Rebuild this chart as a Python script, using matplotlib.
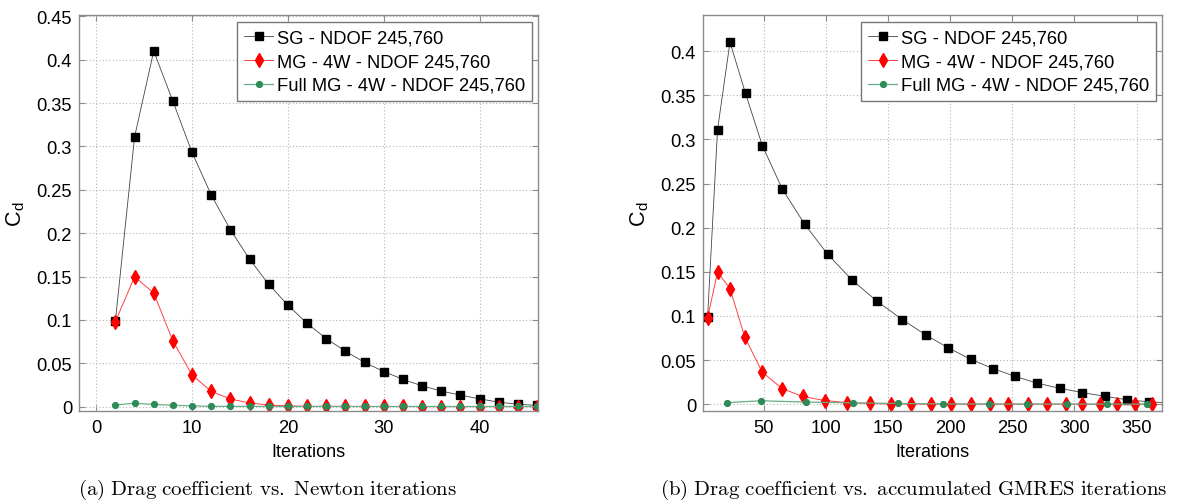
import matplotlib
matplotlib.use("Agg")
import matplotlib.pyplot as plt
import numpy as np

# ---------------- data ----------------
newton_sg = [2, 4, 6, 8, 10, 12, 14, 16, 18, 20, 22, 24, 26, 28, 30, 32, 34, 36, 38, 40, 42, 44, 46]
gmres_sg = [5, 13, 23, 35.5, 49, 65, 83, 101.5, 121, 141, 161.5, 180.5, 198.5, 216.5, 234.5,
            252.5, 270, 288.5, 306.5, 324.5, 342, 360, 378]
cd_sg = [0.099, 0.311, 0.410, 0.352, 0.293, 0.244, 0.204, 0.170, 0.141, 0.117, 0.096, 0.0785,
         0.064, 0.051, 0.0405, 0.0315, 0.024, 0.018, 0.0133, 0.009, 0.0052, 0.0028, 0.0015]

newton_mg = [2, 4, 6, 8, 10, 12, 14, 16, 18, 20, 22, 24, 26, 28, 30, 32, 34, 36, 38, 40,
             42, 44, 46, 48, 50]
gmres_mg = [5, 13, 23, 35, 49, 65, 81.5, 99.5, 117.5, 135.5, 152.5, 168.5, 184.5, 200.5, 216.5,
            232, 247, 262.5, 278, 293, 306.5, 321, 334.5, 348.5, 362.5]
cd_mg = [0.098, 0.1497, 0.131, 0.0757, 0.0364, 0.0177, 0.0089, 0.0042, 0.0019, 0.0009, 0.0004,
         0.0003, 0.0003, 0.0002, 0.0002, 0.0002, 0.0001, 0.0001, 0.0001, 0.0001, 0.0001, 0.0001,
         0.0001, 0.0001, 0.0001]

newton_full = [2, 4, 6, 8, 10, 12, 14, 16, 18, 20, 22, 24, 26, 28, 30, 32, 34, 36, 38, 40, 42, 44, 46]
gmres_full = [21, 48, 84, 122, 158, 194, 231, 262, 294, 326, 358.5]
cd_full = [0.0019, 0.0040, 0.0025, 0.0016, 0.0009, 0.0004, 0.0003, 0.0003, 0.0002, 0.0002, 0.0002,
           0.0002, 0.0002, 0.0002, 0.0002, 0.0002, 0.0002, 0.0002, 0.0002, 0.0002, 0.0002, 0.0002,
           0.0002]

labels = ["SG - NDOF 245,760", "MG - 4W - NDOF 245,760", "Full MG - 4W - NDOF 245,760"]
yticks_a = [0, 0.05, 0.1, 0.15, 0.2, 0.25, 0.3, 0.35, 0.4, 0.45]
yticklabels_a = ["0", "0.05", "0.1", "0.15", "0.2", "0.25", "0.3", "0.35", "0.4", "0.45"]
yticks_b = [0, 0.05, 0.1, 0.15, 0.2, 0.25, 0.3, 0.35, 0.4]
yticklabels_b = ["0", "0.05", "0.1", "0.15", "0.2", "0.25", "0.3", "0.35", "0.4"]
xticks_a = [0, 10, 20, 30, 40]
xticks_b = [50, 100, 150, 200, 250, 300, 350]
captions = [r"$\mathrm{(a)\ Drag\ coefficient\ vs.\ Newton\ iterations}$",
            r"$\mathrm{(b)\ Drag\ coefficient\ vs.\ accumulated\ GMRES\ iterations}$"]

# ---------------- style ----------------
plt.rcParams["font.family"] = ["Liberation Sans", "DejaVu Sans"]
plt.rcParams["mathtext.fontset"] = "cm"

W, H = 1192, 502
fig = plt.figure(figsize=(W / 100, H / 100), dpi=100)

def px_axes(x0, x1, y0, y1):
    return fig.add_axes([x0 / W, (H - y1) / H, (x1 - x0) / W, (y1 - y0) / H])

ax_a = px_axes(79, 538, 16, 412)
ax_b = px_axes(703, 1162, 16, 412)

SPINE = "#8c8c8c"
GRID = "#b5b5b5"

def style(ax, xlim, ylim, xticks, yticks, yticklabels):
    ax.set_xlim(*xlim)
    ax.set_ylim(*ylim)
    ax.set_xticks(xticks)
    ax.set_xticklabels([str(t) for t in xticks])
    ax.set_yticks(yticks)
    ax.set_yticklabels(yticklabels)
    ax.grid(True, linestyle=(0, (1, 2)), color=GRID, linewidth=0.8)
    ax.set_axisbelow(True)
    for s in ax.spines.values():
        s.set_color(SPINE)
        s.set_linewidth(1.0)
    ax.tick_params(direction="in", length=4, width=0.8, color=SPINE, top=True, right=True,
                   labelsize=13.2, labelcolor="black")
    ax.tick_params(axis="x", pad=6)
    ax.tick_params(axis="y", pad=5)
    ax.set_xlabel("Iterations", fontsize=13, labelpad=5)
    ax.set_ylabel(r"C$_\mathregular{d}$", fontsize=15.5, labelpad=7)

def draw(ax, xs_sg, xs_mg, xs_full):
    ax.plot(xs_sg, cd_sg[:len(xs_sg)], color="#444444", linewidth=0.6, marker="s",
            markersize=6, markerfacecolor="black", markeredgecolor="black", label=labels[0])
    ax.plot(xs_mg, cd_mg[:len(xs_mg)], color="#ff4040", linewidth=0.7, marker="d",
            markersize=7.5, markerfacecolor="red", markeredgecolor="red", label=labels[1])
    ax.plot(xs_full, cd_full[:len(xs_full)], color="#6aae8a", linewidth=0.9, marker="o",
            markersize=4.2, markerfacecolor="#2e8b57", markeredgecolor="#2e8b57", label=labels[2])
    leg = ax.legend(loc="upper right", bbox_to_anchor=(0.988, 0.983), borderaxespad=0,
                    fontsize=13.2, frameon=True, fancybox=False, handlelength=1.6,
                    handletextpad=0.2, labelspacing=0.38, borderpad=0.4)
    leg.get_frame().set_edgecolor("#777777")
    leg.get_frame().set_linewidth(1.0)
    leg.get_frame().set_alpha(1.0)

draw(ax_a, newton_sg, newton_mg, newton_full)
style(ax_a, (-1.8, 46.1), (-0.005, 0.4515), xticks_a, yticks_a, yticklabels_a)

draw(ax_b, gmres_sg, gmres_mg, gmres_full)
style(ax_b, (1.3, 370.5), (-0.0076, 0.4408), xticks_b, yticks_b, yticklabels_b)

fig.text(268 / W, 1 - 490 / H, captions[0], ha="center", va="center", fontsize=15)
fig.text(914 / W, 1 - 490 / H, captions[1], ha="center", va="center", fontsize=15)

fig.savefig("out.png", dpi=100)
